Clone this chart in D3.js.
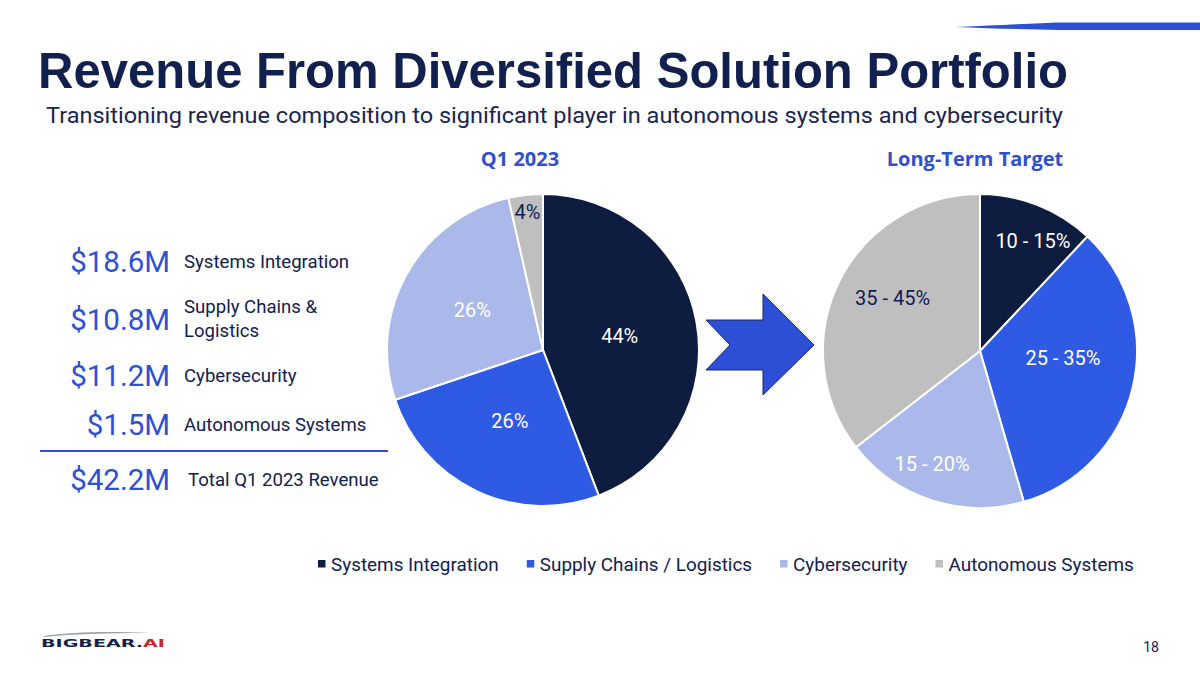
<!DOCTYPE html>
<html><head><meta charset="utf-8">
<script src="https://cdn.jsdelivr.net/npm/d3@7"></script>
<style>body{margin:0;background:#fff}svg{display:block}</style>
</head><body><svg id="c" width="1200" height="675"></svg>
<script>
// ---------- data ----------
const categories = ["Systems Integration", "Supply Chains / Logistics", "Cybersecurity", "Autonomous Systems"];
const q1Revenue = [18.6, 10.8, 11.2, 1.5];          // $M, Q1 2023
const q1Labels = ["44%", "26%", "26%", "4%"];
const targetShare = [12, 33.5, 19, 35.5];           // long-term target (drawn share)
const targetLabels = ["10 - 15%", "25 - 35%", "15 - 20%", "35 - 45%"];
const revenueAmounts = ["$18.6M", "$10.8M", "$11.2M", "$1.5M"];
const revenueNames = [["Systems Integration"], ["Supply Chains &", "Logistics"], ["Cybersecurity"], ["Autonomous Systems"]];
const totalAmount = "$42.2M";
const totalName = "Total Q1 2023 Revenue";
const titleText = "Revenue From Diversified Solution Portfolio";
const subtitleText = "Transitioning revenue composition to significant player in autonomous systems and cybersecurity";
const pieTitles = ["Q1 2023", "Long-Term Target"];

// ---------- style ----------
const colors = ["#0e1c3f", "#2f5be4", "#aab8ea", "#bfbfbf"];
const navy = "#12204f", accent = "#2d50d5";
const font = "Roboto, 'Liberation Sans', Arial, sans-serif";

const svg = d3.select("#c");

// top-right tapered bar
svg.append("path")
  .attr("d", "M955,27 C1000,25 1040,23 1060,22.5 L1200,22.5 L1200,30 L1060,30 C1030,29.5 990,28.5 955,27 Z")
  .attr("fill", "#2e4fd0");

// title & subtitle
svg.append("text").attr("x", 38).attr("y", 88)
  .attr("font-family", "'Liberation Sans', Arial, sans-serif").attr("font-weight", "bold")
  .attr("font-size", 50).attr("fill", navy)
  .attr("textLength", 1030).attr("lengthAdjust", "spacingAndGlyphs")
  .text(titleText);
svg.append("text").attr("x", 46).attr("y", 123)
  .attr("font-family", font).attr("font-size", 22.5).attr("fill", "#1a2450")
  .attr("textLength", 1017).attr("lengthAdjust", "spacingAndGlyphs")
  .text(subtitleText);

// ---------- left panel ----------
const rowBaselines = [272, 330, 386, 435];
const left = svg.append("g");
revenueAmounts.forEach((amt, i) => {
  left.append("text").attr("x", 170).attr("y", rowBaselines[i])
    .attr("text-anchor", "end").attr("font-family", font).attr("font-size", 29.5)
    .attr("fill", accent).text(amt);
  const names = revenueNames[i];
  const base = names.length > 1 ? rowBaselines[i] - 17 : rowBaselines[i] - 4;
  names.forEach((n, j) => {
    left.append("text").attr("x", 184).attr("y", base + j * 24)
      .attr("font-family", font).attr("font-size", 18.6).attr("fill", navy).text(n);
  });
});
left.append("line").attr("x1", 40).attr("x2", 388).attr("y1", 451).attr("y2", 451)
  .attr("stroke", accent).attr("stroke-width", 2.2);
left.append("text").attr("x", 170).attr("y", 490).attr("text-anchor", "end")
  .attr("font-family", font).attr("font-size", 29.5).attr("fill", accent).text(totalAmount);
left.append("text").attr("x", 188).attr("y", 486)
  .attr("font-family", font).attr("font-size", 18.6).attr("fill", navy).text(totalName);

// ---------- pies ----------
function drawPie(values, labels, cx, cy, r, labelRadii, labelShift, labelColors, title, titleX) {
  const g = svg.append("g").attr("transform", `translate(${cx},${cy})`);
  const pie = d3.pie().sort(null).value(d => d)(values);
  const arc = d3.arc().innerRadius(0).outerRadius(r);
  g.selectAll("path.slice").data(pie).join("path")
    .attr("class", "slice").attr("d", arc)
    .attr("fill", (d, i) => colors[i])
    .attr("stroke", "#fff").attr("stroke-width", 2).attr("stroke-linejoin", "round");
  g.selectAll("text.lbl").data(pie).join("text")
    .attr("class", "lbl")
    .attr("transform", (d, i) => {
      const a = (d.startAngle + d.endAngle) / 2 + labelShift[i] * Math.PI / 180, rr = r * labelRadii[i];
      return `translate(${Math.sin(a) * rr},${-Math.cos(a) * rr})`;
    })
    .attr("text-anchor", "middle").attr("dy", "0.35em")
    .attr("font-family", font).attr("font-size", 20)
    .attr("fill", (d, i) => labelColors[i])
    .text((d, i) => labels[i]);
  svg.append("text").attr("x", titleX).attr("y", 166)
    .attr("text-anchor", "middle")
    .attr("font-family", "'Open Sans', sans-serif").attr("font-weight", "bold")
    .attr("font-size", 20).attr("fill", "#2f4fd0").text(title);
}
drawPie(q1Revenue, q1Labels, 543, 350, 156, [0.5, 0.5, 0.52, 0.89], [0, 0, 0, 0],
  ["#fff", "#fff", "#fff", navy], pieTitles[0], 520);
drawPie(targetShare, targetLabels, 980, 351, 157, [0.78, 0.53, 0.78, 0.65], [4, -9, 5, 5],
  ["#fff", "#fff", "#fff", navy], pieTitles[1], 975);

// arrow between pies
svg.append("polygon")
  .attr("points", "706,320 763,320 763,294 814,345 763,395 763,370 706,370 730,345")
  .attr("fill", "#2d4fd6").attr("stroke", "#1a2a66").attr("stroke-width", 1);

// ---------- legend ----------
const lg = svg.append("g");
let lx = 318;
categories.forEach((c, i) => {
  lg.append("rect").attr("x", lx).attr("y", 560).attr("width", 7.5).attr("height", 7.5).attr("fill", colors[i]);
  const t = lg.append("text").attr("x", lx + 13).attr("y", 570.5)
    .attr("font-family", font).attr("font-size", 18.9).attr("fill", navy).text(c);
  lx += 13 + t.node().getComputedTextLength() + 28;
});

// ---------- footer ----------
svg.append("path").attr("d", "M44,636 C70,632 110,631 150,633 C110,633 72,634 44,637 Z").attr("fill", "#9aa3b5");
const logo = svg.append("text").attr("x", 41).attr("y", 647)
  .attr("font-family", "'DejaVu Sans', sans-serif").attr("font-weight", "bold")
  .attr("font-size", 10.5).attr("fill", "#14214d")
  .attr("textLength", 124).attr("lengthAdjust", "spacingAndGlyphs");
logo.append("tspan").text("BIGBEAR.");
logo.append("tspan").attr("fill", "#c8252c").text("AI");
svg.append("text").attr("x", 1159).attr("y", 652).attr("text-anchor", "end")
  .attr("font-family", font).attr("font-size", 14).attr("fill", navy).text("18");
</script></body></html>
